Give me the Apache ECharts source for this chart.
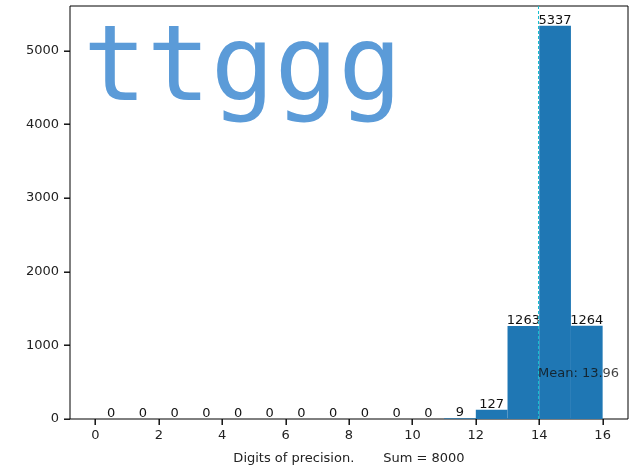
<!DOCTYPE html>
<html>
<head>
<meta charset="utf-8">
<script src="https://cdn.jsdelivr.net/npm/echarts@6/dist/echarts.min.js"></script>
<style>
  html, body { margin: 0; padding: 0; background: #fff; }
  #chart { width: 637px; height: 470px; }
</style>
</head>
<body>
<div id="chart"></div>
<script>
// histogram bins (left edges, right edges) and counts
var binStart = [0, 1, 2, 3, 4, 5, 6, 7, 8, 9, 10, 11, 12, 13, 14, 15];
var binEnd = [1, 2, 3, 4, 5, 6, 7, 8, 9, 10, 11, 12, 13, 14, 15, 16];
var counts = [0, 0, 0, 0, 0, 0, 0, 0, 0, 0, 0, 9, 127, 1263, 5337, 1264];
var xTicks = [0, 2, 4, 6, 8, 10, 12, 14, 16];
var yTicks = [0, 1000, 2000, 3000, 4000, 5000];
var meanValue = 13.96;
var meanLabelY = 620;

var X_MIN = -0.8, X_MAX = 16.8, Y_MAX = 5604;

var chart = echarts.init(document.getElementById('chart'));

var histData = [];
for (var i = 0; i < counts.length; i++) {
  histData.push([binStart[i], binEnd[i], counts[i]]);
}
// tick marks: [x, y, kind] (0 = x axis tick, 1 = y axis tick)
var tickData = [];
xTicks.forEach(function (v) { tickData.push([v, 0, 0]); });
yTicks.forEach(function (v) { tickData.push([X_MIN, v, 1]); });

var tickFont = { fontFamily: 'DejaVu Sans', fontSize: 13, color: '#222' };

var option = {
  animation: false,
  grid: {
    left: 70, right: 9, top: 6, bottom: 49,
    show: true, borderColor: '#000', borderWidth: 1
  },
  xAxis: {
    type: 'value',
    min: X_MIN,
    max: X_MAX,
    name: 'Digits of precision.       Sum = 8000',
    nameLocation: 'middle',
    nameGap: 33,
    nameTextStyle: tickFont,
    axisLine: { show: false, onZero: false },
    splitLine: { show: false },
    axisTick: { show: false },
    axisLabel: Object.assign({ customValues: xTicks, margin: 10 }, tickFont)
  },
  yAxis: {
    type: 'value',
    min: 0,
    max: Y_MAX,
    axisLine: { show: false, onZero: false },
    splitLine: { show: false },
    axisTick: { show: false },
    axisLabel: Object.assign({
      customValues: yTicks, margin: 11,
      formatter: function (v) { return String(v); }
    }, tickFont)
  },
  series: [
    {
      type: 'custom',
      data: histData,
      encode: { x: [0, 1], y: 2 },
      renderItem: function (params, api) {
        var p0 = api.coord([api.value(0), api.value(2)]);
        var p1 = api.coord([api.value(1), 0]);
        return {
          type: 'group',
          children: [
            {
              type: 'rect',
              shape: { x: p0[0], y: p0[1], width: p1[0] - p0[0], height: p1[1] - p0[1] },
              style: { fill: '#1f77b4' }
            },
            {
              type: 'text',
              style: {
                text: String(api.value(2)),
                x: (p0[0] + p1[0]) / 2,
                y: p0[1] + 1,
                align: 'center',
                verticalAlign: 'bottom',
                fontFamily: 'DejaVu Sans',
                fontSize: 13,
                fill: '#111'
              }
            }
          ]
        };
      },
      z: 2
    },
    {
      // tick marks as small filled rectangles outside the plot frame
      type: 'custom',
      data: tickData,
      encode: { x: 0, y: 1 },
      silent: true,
      clip: false,
      renderItem: function (params, api) {
        var p = api.coord([api.value(0), api.value(1)]);
        var isY = api.value(2) === 1;
        var shape = isY
          ? { x: p[0] - 6, y: Math.round(p[1]) - 0.5, width: 6, height: 1.4 }
          : { x: Math.round(p[0]) - 0.5, y: p[1], width: 1.4, height: 6 };
        return {
          type: 'rect',
          shape: shape,
          style: { fill: '#000' },
          z2: 50
        };
      },
      z: 20
    },
    {
      type: 'line',
      data: [],
      markLine: {
        silent: true,
        symbol: 'none',
        label: { show: false },
        lineStyle: { color: '#17becf', type: [3, 2], width: 1 },
        data: [{ xAxis: meanValue }]
      },
      z: 3
    },
    {
      type: 'scatter',
      symbolSize: 0,
      data: [[meanValue, meanLabelY]],
      label: {
        show: true,
        formatter: 'Mean: ' + meanValue.toFixed(2),
        position: 'right',
        distance: 0,
        fontFamily: 'DejaVu Sans',
        fontSize: 13,
        color: '#111'
      },
      z: 4
    }
  ],
  graphic: [
    {
      type: 'text',
      left: 83,
      top: 19,
      z: 10,
      style: {
        text: 'ttggg',
        fontFamily: 'DejaVu Sans Mono',
        fontSize: 106,
        fill: '#5b9bd8',
        textShadowColor: 'rgba(120,170,220,0.6)',
        textShadowOffsetX: 1,
        textShadowOffsetY: 2,
        textShadowBlur: 0
      }
    }
  ]
};

chart.setOption(option);
</script>
</body>
</html>
